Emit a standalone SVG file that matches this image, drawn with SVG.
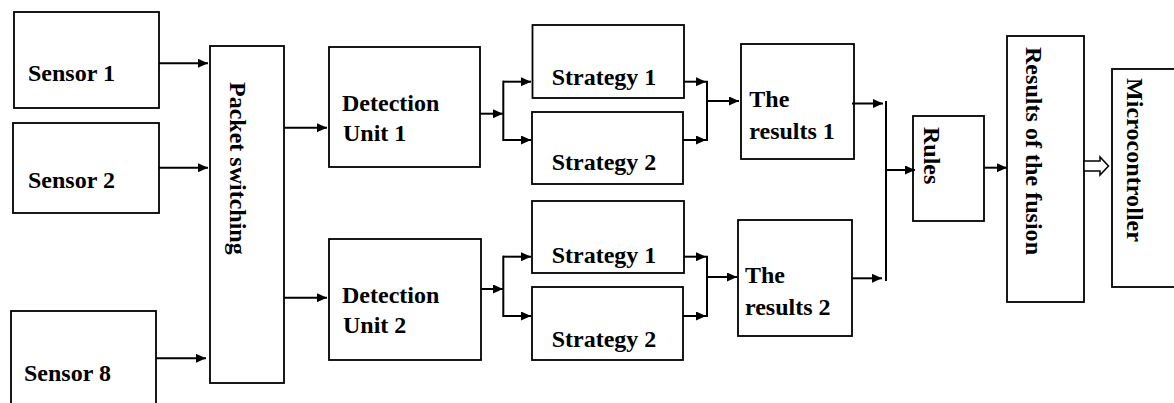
<svg xmlns="http://www.w3.org/2000/svg" width="1174" height="403" viewBox="0 0 1174 403">
<style>
.box{fill:#fff;stroke:#000;stroke-width:1.8}
.t{font-family:"Liberation Serif","Times New Roman",serif;font-weight:bold;font-size:24px;fill:#000}
.c{fill:none;stroke:#000;stroke-width:2}
.a{fill:none;stroke:#000;stroke-width:2;marker-end:url(#ah)}
</style>
<defs>
<marker id="ah" markerUnits="userSpaceOnUse" markerWidth="10" markerHeight="9" refX="10" refY="4.5" orient="auto">
<path d="M0,0 L10,4.5 L0,9 z" fill="#000"/>
</marker>
</defs>
<rect width="1174" height="403" fill="#fff"/>
<g id="sensor1"><rect class="box" x="14" y="12" width="145" height="96"/><text class="t" x="28" y="81">Sensor 1</text></g>
<g id="sensor2"><rect class="box" x="13" y="123" width="146" height="90"/><text class="t" x="28" y="188">Sensor 2</text></g>
<g id="sensor8"><rect class="box" x="11" y="311" width="145" height="100"/><text class="t" x="24" y="381">Sensor 8</text></g>
<g id="packet"><rect class="box" x="210" y="46" width="74" height="337"/><text class="t" transform="translate(230,82) rotate(90)">Packet switching</text></g>
<g id="du1"><rect class="box" x="329" y="47" width="151" height="120"/><text class="t" x="342" y="111">Detection</text><text class="t" x="343" y="140.7">Unit 1</text></g>
<g id="du2"><rect class="box" x="329" y="239" width="152" height="121"/><text class="t" x="342" y="303.3">Detection</text><text class="t" x="343" y="333.3">Unit 2</text></g>
<g id="s1a"><rect class="box" x="532.5" y="25" width="151.5" height="73"/><text class="t" x="551.7" y="85">Strategy 1</text></g>
<g id="s2a"><rect class="box" x="532" y="112" width="151" height="72"/><text class="t" x="551.7" y="170">Strategy 2</text></g>
<g id="s1b"><rect class="box" x="532" y="201" width="152" height="72"/><text class="t" x="551.7" y="262.7">Strategy 1</text></g>
<g id="s2b"><rect class="box" x="532" y="287" width="151" height="73"/><text class="t" x="551.7" y="346.7">Strategy 2</text></g>
<g id="res1"><rect class="box" x="741" y="44" width="113" height="115"/><text class="t" x="749.3" y="106.7">The</text><text class="t" x="749.3" y="139">results 1</text></g>
<g id="res2"><rect class="box" x="738" y="220" width="114" height="116"/><text class="t" x="745" y="282.7">The</text><text class="t" x="745" y="315">results 2</text></g>
<g id="rules"><rect class="box" x="913" y="116" width="71" height="105"/><text class="t" transform="translate(923.5,127) rotate(90)">Rules</text></g>
<g id="fusion"><rect class="box" x="1007" y="36" width="77" height="266"/><text class="t" transform="translate(1025.5,47) rotate(90)" textLength="208" lengthAdjust="spacing">Results of the fusion</text></g>
<g id="micro"><rect class="box" x="1112" y="69" width="70" height="218"/><text class="t" transform="translate(1127,78) rotate(90)" textLength="164" lengthAdjust="spacing">Microcontroller</text></g>
<g id="connectors">
<line class="a" x1="159" y1="63.3" x2="208" y2="63.3"/>
<line class="a" x1="159" y1="167.7" x2="208" y2="167.7"/>
<line class="a" x1="156" y1="358.3" x2="206" y2="358.3"/>
<line class="a" x1="284" y1="127.7" x2="327" y2="127.7"/>
<line class="a" x1="284" y1="297.7" x2="327" y2="297.7"/>
<line class="a" x1="480" y1="113.7" x2="503" y2="113.7"/>
<path class="c" d="M503.3,80.7 V141"/>
<line class="a" x1="503" y1="81.7" x2="531" y2="81.7"/>
<line class="a" x1="503" y1="140" x2="531" y2="140"/>
<line class="a" x1="684" y1="81.7" x2="706" y2="81.7"/>
<line class="a" x1="683" y1="140" x2="706" y2="140"/>
<path class="c" d="M707,80.7 V141"/>
<line class="a" x1="707" y1="101" x2="739" y2="101"/>
<line class="a" x1="481" y1="289" x2="503" y2="289"/>
<path class="c" d="M503.3,255.7 V317"/>
<line class="a" x1="503" y1="256.7" x2="531" y2="256.7"/>
<line class="a" x1="503" y1="316" x2="531" y2="316"/>
<line class="a" x1="684" y1="256.7" x2="706" y2="256.7"/>
<line class="a" x1="683" y1="316" x2="706" y2="316"/>
<path class="c" d="M707,255.7 V317"/>
<line class="a" x1="707" y1="277" x2="737" y2="277"/>
<line class="a" x1="852" y1="103.5" x2="883" y2="103.5"/>
<line class="a" x1="852" y1="278.3" x2="882" y2="278.3"/>
<path class="c" d="M886,101 V281"/>
<line class="a" x1="886" y1="170" x2="915" y2="170"/>
<line class="a" x1="984" y1="167.7" x2="1007" y2="167.7"/>
<polygon points="1084,161 1100,161 1100,157 1108.5,166 1100,175 1100,171 1084,171" fill="#fff" stroke="#000" stroke-width="1.5"/>
</g>
</svg>
